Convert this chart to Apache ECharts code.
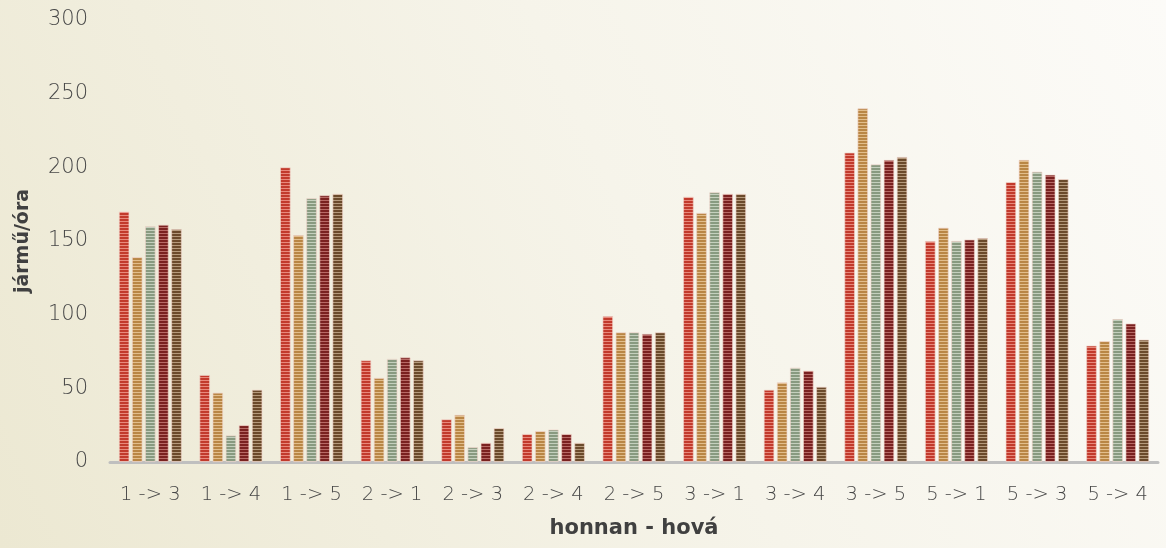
<!DOCTYPE html>
<html><head><meta charset="utf-8">
<script src="https://cdn.jsdelivr.net/npm/echarts@6/dist/echarts.min.js"></script>
<style>html,body{margin:0;padding:0;}#c{width:1166px;height:548px;}</style>
</head><body><div id="c"></div>
<script>
const categories = ['1 -> 3','1 -> 4','1 -> 5','2 -> 1','2 -> 3','2 -> 4','2 -> 5','3 -> 1','3 -> 4','3 -> 5','5 -> 1','5 -> 3','5 -> 4'];
const s1 = [170, 59, 200, 69, 29, 19, 99, 180, 49, 210, 150, 190, 79];
const s2 = [139, 47, 154, 57, 32, 21, 88, 169, 54, 240, 159, 205, 82];
const s3 = [160, 18, 179, 70, 10, 22, 88, 183, 64, 202, 150, 197, 97];
const s4 = [161, 25, 181, 71, 13, 19, 87, 182, 62, 205, 151, 195, 94];
const s5 = [158, 49, 182, 69, 23, 13, 88, 182, 51, 207, 152, 192, 83];
const seriesData = [s1, s2, s3, s4, s5];
const darkColors = ['#C23A2C', '#B98645', '#889A80', '#7A2120', '#6B4A2B'];
const lightColors = ['#E8897C', '#E2BE8C', '#C4D0BE', '#B86A66', '#B59A7C'];

function stripe(dark, light) {
  const c = document.createElement('canvas');
  c.width = 4; c.height = 3;
  const g = c.getContext('2d');
  g.fillStyle = dark; g.fillRect(0, 0, 4, 2);
  g.fillStyle = light; g.fillRect(0, 2, 4, 1);
  return { image: c, repeat: 'repeat' };
}

const labelFont = '"DejaVu Sans", sans-serif';
const titleFont = '"DejaVu Sans", sans-serif';
const chart = echarts.init(document.getElementById('c'));
chart.setOption({
  animation: false,
  backgroundColor: {
    type: 'linear', x: 0, y: 1, x2: 1, y2: 0,
    colorStops: [{ offset: 0, color: '#ECE8D2' }, { offset: 0.55, color: '#F6F4EA' }, { offset: 1, color: '#FCFBF8' }]
  },
  grid: { left: 110, right: 8, top: 20, bottom: 86 },
  xAxis: {
    type: 'category', data: categories,
    name: 'honnan - hová', nameLocation: 'middle', nameGap: 56,
    nameTextStyle: { fontFamily: titleFont, fontWeight: 'bold', fontSize: 21, color: '#404040' },
    axisLine: { lineStyle: { color: '#BFBFBF', width: 3 } },
    axisTick: { show: false },
    axisLabel: { interval: 0, fontFamily: labelFont, fontSize: 19.5, fontWeight: 200, color: '#484848', margin: 23 }
  },
  yAxis: {
    type: 'value', min: 0, max: 300, interval: 50,
    name: 'jármű/óra', nameLocation: 'middle', nameGap: 77, nameRotate: 90,
    nameTextStyle: { fontFamily: titleFont, fontWeight: 'bold', fontSize: 19, color: '#404040' },
    axisLine: { show: false }, axisTick: { show: false },
    splitLine: { show: false },
    axisLabel: { fontFamily: labelFont, fontSize: 21, fontWeight: 200, color: '#484848', margin: 22 }
  },
  series: seriesData.map((d, i) => ({
    type: 'bar', data: d,
    barGap: '25%', barCategoryGap: '22%',
    itemStyle: {
      color: stripe(darkColors[i], lightColors[i]),
      borderColor: 'rgba(240,210,200,0.8)', borderWidth: 0.8
    }
  }))
});
</script></body></html>
